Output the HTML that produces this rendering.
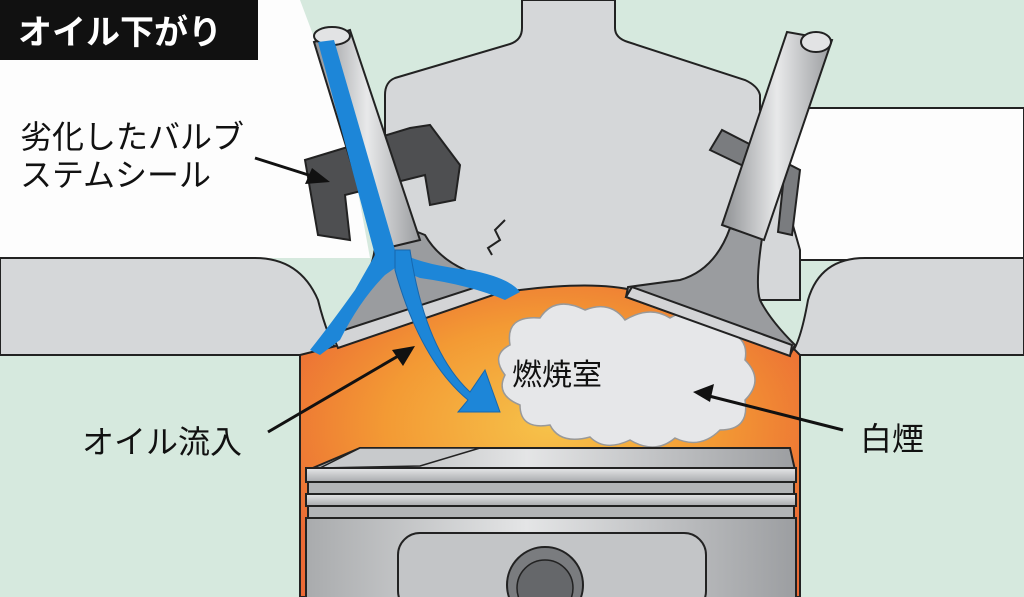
<!DOCTYPE html>
<html><head><meta charset="utf-8"><style>
html,body{margin:0;padding:0;background:#d6e9de;}
svg{display:block}
text{font-family:"Liberation Sans","Noto Sans CJK JP",sans-serif;}
</style></head><body>
<svg width="1024" height="597" viewBox="0 0 1024 597" xmlns="http://www.w3.org/2000/svg">
<defs>
<radialGradient id="fire" cx="0.5" cy="0.45" r="0.6">
<stop offset="0" stop-color="#f6c24a"/><stop offset="0.55" stop-color="#f39a34"/><stop offset="1" stop-color="#eb6a35"/>
</radialGradient>
<linearGradient id="stem" x1="0" x2="1" y1="0" y2="0">
<stop offset="0" stop-color="#8e9093"/><stop offset="0.5" stop-color="#e8e9ea"/><stop offset="1" stop-color="#9a9c9f"/>
</linearGradient>
<linearGradient id="pist" x1="0" x2="1">
<stop offset="0" stop-color="#a9abad"/><stop offset="0.45" stop-color="#e4e5e6"/><stop offset="1" stop-color="#9c9ea1"/>
</linearGradient>
<linearGradient id="ring" x1="0" x2="0" y1="0" y2="1">
<stop offset="0" stop-color="#e6e7e8"/><stop offset="1" stop-color="#a8aaad"/>
</linearGradient>
</defs>
<rect width="1024" height="597" fill="#d6e9de"/>
<!-- left white -->
<polygon points="0,0 300,0 345,120 370,258 0,258" fill="#fdfdfd"/>
<!-- right white band -->
<rect x="780" y="108" width="244" height="152" fill="#fdfdfd" stroke="#222" stroke-width="2"/>
<!-- central head -->
<path d="M522,0 L522,28 Q522,40 510,44 L395,78 Q385,82 385,95 L385,300 L800,300 L800,250 L760,110 L760,95 Q758,86 745,80 L628,42 Q615,38 615,28 L615,0 Z" fill="#d5d7d9" stroke="#222" stroke-width="2"/>
<!-- left head block -->
<path d="M0,258 L255,258 Q300,258 318,300 Q328,340 340,355 L0,355 Z" fill="#d5d7d9" stroke="#222" stroke-width="2"/>
<!-- right head block -->
<path d="M1024,258 L865,258 Q820,258 808,300 Q800,345 790,355 L1024,355 Z" fill="#d5d7d9" stroke="#222" stroke-width="2"/>
<!-- cylinder -->
<path d="M300,355 L340,345 Q420,300 520,290 Q600,280 640,292 L795,350 L800,355 L800,597 L300,597 Z" fill="url(#fire)" stroke="#222" stroke-width="2"/>
<!-- cloud -->
<path d="M510,345 Q505,315 540,318 Q555,295 585,310 Q610,300 625,320 Q650,305 670,318 Q700,300 720,330 Q750,335 745,360 Q765,380 745,400 Q750,430 720,430 Q700,450 675,438 Q655,455 630,440 Q605,452 590,437 Q560,445 550,425 Q520,430 520,405 Q495,395 505,375 Q490,355 510,345 Z" fill="#e6e7e9" stroke="#999" stroke-width="1.5"/>
<!-- piston -->
<polygon points="308,470 360,448 790,448 795,470" fill="url(#pist)" stroke="#222" stroke-width="2"/>
<polygon points="360,448 480,448 420,466 320,468" fill="#c8cacc" stroke="#222" stroke-width="1.5"/>
<rect x="306" y="468" width="490" height="14" fill="url(#ring)" stroke="#222" stroke-width="2"/>
<rect x="308" y="482" width="486" height="12" fill="#b2b4b6" stroke="#222" stroke-width="2"/>
<rect x="306" y="494" width="490" height="12" fill="url(#ring)" stroke="#222" stroke-width="2"/>
<rect x="308" y="506" width="486" height="12" fill="#b2b4b6" stroke="#222" stroke-width="2"/>
<rect x="306" y="518" width="490" height="80" fill="url(#pist)" stroke="#222" stroke-width="2"/>
<rect x="398" y="533" width="308" height="80" rx="22" fill="#c3c5c7" stroke="#222" stroke-width="2"/>
<circle cx="545" cy="585" r="38" fill="#7a7c7f" stroke="#222" stroke-width="2"/>
<circle cx="545" cy="588" r="28" fill="#65676a" stroke="#222" stroke-width="1.5"/>
<!-- right valve -->
<polygon points="710,150 722,130 800,170 792,235 778,232 783,185" fill="#7a7c7f" stroke="#222" stroke-width="2"/>
<path d="M730,228 Q715,270 680,280 L628,287 L626,297 L790,355 L795,345 Q770,320 760,300 Q755,285 762,238 Z" fill="#9a9c9f" stroke="#222" stroke-width="2"/>
<polygon points="626,297 632,287 792,345 790,356" fill="#d3d4d6" stroke="#222" stroke-width="2"/>
<polygon points="787,32 832,40 764,240 722,225" fill="url(#stem)" stroke="#222" stroke-width="2"/>
<ellipse cx="816" cy="42" rx="15" ry="10" fill="#e2e3e4" stroke="#222" stroke-width="2"/>
<!-- left seal -->
<path d="M305,160 L410,128 L430,125 L460,165 L455,200 L430,205 L425,175 L345,195 L350,240 L318,235 Z" fill="#4e4f51" stroke="#222" stroke-width="2"/>
<!-- left valve -->
<path d="M375,215 Q380,260 360,285 L330,330 L340,345 L500,290 L498,280 Q445,270 425,235 Z" fill="#9a9c9f" stroke="#222" stroke-width="2"/>
<polygon points="332,334 498,280 502,292 338,348" fill="#d3d4d6" stroke="#222" stroke-width="2"/>
<polygon points="314,42 350,30 420,240 378,250" fill="url(#stem)" stroke="#222" stroke-width="2"/>
<ellipse cx="332" cy="36" rx="18" ry="9" fill="#e2e3e4" stroke="#222" stroke-width="2"/>
<!-- oil -->
<path d="M318,42 L334,40 L395,250 Q420,265 470,270 Q510,278 520,292 L505,300 Q470,285 420,278 L395,268 L385,275 Q360,300 340,340 L320,355 L310,350 Q330,325 355,290 L375,255 Z" fill="#1d86d8"/>
<path d="M395,250 L410,250 Q425,350 470,392 L485,370 L500,412 L458,412 L468,400 Q420,360 395,270 Z" fill="#1d86d8" stroke="#1767ad" stroke-width="1"/>
<!-- crack -->
<polyline points="505,220 495,230 500,240 488,248 492,255" fill="none" stroke="#222" stroke-width="2"/>
<!-- title -->
<rect x="0" y="0" width="258" height="60" fill="#111"/>
<text x="18" y="44" font-size="34" font-weight="bold" fill="#fff">オイル下がり</text>
<!-- labels -->
<text x="20" y="148" font-size="32" fill="#111">劣化したバルブ</text>
<text x="20" y="186" font-size="32" fill="#111">ステムシール</text>
<line x1="255" y1="158" x2="318" y2="178" stroke="#111" stroke-width="3"/>
<polygon points="330,182 305,184 312,168" fill="#111"/>
<text x="82" y="453" font-size="32" fill="#111">オイル流入</text>
<line x1="268" y1="432" x2="405" y2="352" stroke="#111" stroke-width="3"/>
<polygon points="415,346 392,350 403,366" fill="#111"/>
<text x="512" y="385" font-size="30" fill="#111">燃焼室</text>
<text x="860" y="450" font-size="32" fill="#111">白煙</text>
<line x1="843" y1="430" x2="705" y2="395" stroke="#111" stroke-width="3"/>
<polygon points="693,392 714,384 710,402" fill="#111"/>
</svg>
</body></html>
